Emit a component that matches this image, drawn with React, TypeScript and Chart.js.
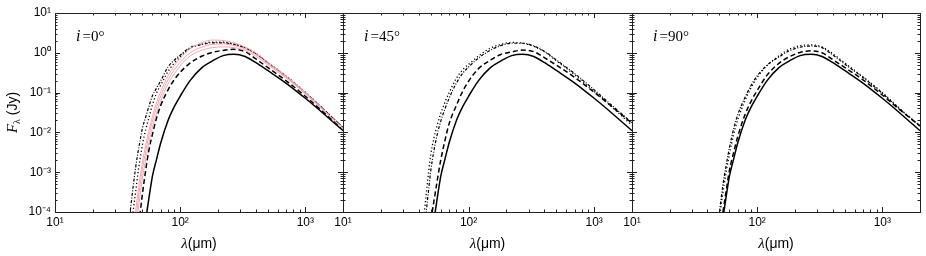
import React, { useEffect, useRef } from 'react';
import { Chart, registerables } from 'chart.js';

Chart.register(...registerables);

// Wavelength grid (micron) shared by all curves
const lam = [38, 40, 42, 44, 46, 48, 50, 53, 56, 60, 65, 70, 80, 90, 100, 120, 150, 180, 220, 270, 330, 400, 500, 700, 1000, 1400, 2000];

// Solid reference curve (same in all panels)
const solidAll = [null, null, null, null, null, null, 1.6e-5, 6.3e-5, 2.0e-4, 7.9e-4, 2.2e-3, 5.5e-3, 0.020, 0.045, 0.081, 0.20, 0.43, 0.62, 0.85, 0.92, 0.81, 0.575, 0.36, 0.174, 0.072, 0.0295, 0.011];

// Panel i = 0
const dashed0 = [null, null, null, null, 3.2e-5, 1.0e-4, 2.9e-4, 1.1e-3, 3.3e-3, 8.9e-3, 0.024, 0.048, 0.117, 0.214, 0.324, 0.55, 0.83, 1.02, 1.15, 1.22, 1.07, 0.71, 0.43, 0.20, 0.081, 0.032, 0.0122];
const dotted0 = [null, 2.8e-5, 1.0e-4, 3.1e-4, 9.5e-4, 2.3e-3, 5.0e-3, 0.0117, 0.022, 0.049, 0.10, 0.155, 0.34, 0.56, 0.79, 1.29, 1.66, 1.86, 1.86, 1.66, 1.35, 0.98, 0.575, 0.263, 0.102, 0.038, 0.0132];
const dashdot0 = [3.2e-5, 1.12e-4, 4.1e-4, 1.26e-3, 3.1e-3, 6.6e-3, 0.0129, 0.024, 0.043, 0.083, 0.132, 0.20, 0.44, 0.66, 0.87, 1.35, 1.62, 1.78, 1.78, 1.62, 1.32, 0.955, 0.56, 0.257, 0.10, 0.038, 0.0132];
const pinkTop0 = [null, null, 3.2e-5, 1.0e-4, 3.2e-4, 7.9e-4, 1.8e-3, 4.7e-3, 0.0105, 0.025, 0.058, 0.107, 0.263, 0.48, 0.72, 1.26, 1.82, 2.09, 2.04, 1.78, 1.41, 1.0, 0.59, 0.263, 0.102, 0.037, 0.0126];
const pinkMid0 = [null, null, 1.6e-5, 5.6e-5, 1.8e-4, 5.0e-4, 1.2e-3, 3.3e-3, 7.6e-3, 0.019, 0.044, 0.083, 0.209, 0.38, 0.575, 1.0, 1.41, 1.62, 1.66, 1.51, 1.26, 0.91, 0.54, 0.25, 0.098, 0.036, 0.0126];
const pinkLow0 = [null, null, null, 3.2e-5, 1.0e-4, 2.8e-4, 7.1e-4, 2.1e-3, 5.0e-3, 0.0132, 0.032, 0.063, 0.166, 0.30, 0.47, 0.83, 1.17, 1.35, 1.41, 1.35, 1.15, 0.83, 0.50, 0.234, 0.093, 0.035, 0.0123];

// Panel i = 45
const dashed45 = [null, null, null, null, null, 2.5e-5, 6.0e-5, 1.9e-4, 5.6e-4, 2.0e-3, 6.5e-3, 0.0166, 0.048, 0.11, 0.193, 0.40, 0.66, 0.91, 1.05, 1.17, 1.07, 0.76, 0.49, 0.24, 0.102, 0.043, 0.017];
const dotted45 = [null, null, 1.8e-5, 7.1e-5, 2.8e-4, 1.0e-3, 2.8e-3, 7.2e-3, 0.0145, 0.030, 0.058, 0.10, 0.23, 0.38, 0.51, 0.83, 1.32, 1.62, 1.82, 1.74, 1.45, 1.07, 0.63, 0.28, 0.107, 0.042, 0.015];
const dashdot45 = [null, null, null, 2.5e-5, 1.0e-4, 3.5e-4, 1.1e-3, 3.5e-3, 8.3e-3, 0.019, 0.040, 0.072, 0.174, 0.31, 0.44, 0.74, 1.17, 1.51, 1.74, 1.74, 1.48, 1.10, 0.66, 0.30, 0.117, 0.046, 0.0174];

// Panel i = 90
const dashed90 = [null, null, null, null, null, null, 2.5e-5, 8.9e-5, 2.8e-4, 1.1e-3, 3.2e-3, 7.9e-3, 0.028, 0.063, 0.112, 0.275, 0.55, 0.79, 1.02, 1.12, 1.0, 0.68, 0.43, 0.21, 0.087, 0.0355, 0.0145];
const dotted90 = [null, null, null, null, null, 2.5e-5, 7.1e-5, 2.8e-4, 8.3e-4, 2.8e-3, 9.1e-3, 0.021, 0.063, 0.138, 0.24, 0.48, 0.85, 1.23, 1.51, 1.58, 1.41, 0.955, 0.56, 0.25, 0.10, 0.038, 0.0145];
const dashdot90 = [null, null, null, null, 1.3e-5, 3.5e-5, 1.0e-4, 4.3e-4, 1.26e-3, 4.1e-3, 0.0126, 0.028, 0.076, 0.158, 0.263, 0.49, 0.79, 1.12, 1.38, 1.48, 1.35, 0.89, 0.525, 0.24, 0.0955, 0.037, 0.0145];

// Axis ticks
const xTickValues = [10, 100, 1000];
const yTickValues = [1e-4, 1e-3, 1e-2, 1e-1, 1, 10];
const panelLabels = ['0°', '45°', '90°'];

const SANS = '"Liberation Sans", Arial, sans-serif';
const SERIF = '"Liberation Serif", "DejaVu Serif", serif';
const PINK = 'rgb(244,168,180)';

const SUP: Record<string, string> = { '-': '⁻', '0': '⁰', '1': '¹', '2': '²', '3': '³', '4': '⁴', '5': '⁵' };
function fmtPow(v: number) {
  const e = Math.round(Math.log10(v));
  return '10' + String(e).split('').map((c) => SUP[c] || c).join('');
}

type Style = 'solid' | 'dashed' | 'dotted' | 'dashdot' | 'pink';
const styleMap: Record<Style, { color: string; width: number; dash: number[] }> = {
  solid: { color: '#000', width: 1.5, dash: [] },
  dashed: { color: '#000', width: 1.5, dash: [5, 3] },
  dotted: { color: '#000', width: 1.3, dash: [1.2, 2.4] },
  dashdot: { color: '#000', width: 1.2, dash: [3, 1.6, 1, 1.6] },
  pink: { color: PINK, width: 1, dash: [] },
};

const panels: { series: any[] }[] = [
  { series: [[pinkLow0, 'pink'], [pinkMid0, 'pink'], [pinkTop0, 'pink'], [solidAll, 'solid'], [dashed0, 'dashed'], [dotted0, 'dotted'], [dashdot0, 'dashdot']] },
  { series: [[solidAll, 'solid'], [dashed45, 'dashed'], [dotted45, 'dotted'], [dashdot45, 'dashdot']] },
  { series: [[solidAll, 'solid'], [dashed90, 'dashed'], [dotted90, 'dotted'], [dashdot90, 'dashdot']] },
];

const AREA_L = [55, 343, 632];
const AREA_R = [343, 632, 920];
const AREA_T = 13;
const AREA_B = 212;
const W = 926;
const H = 256;

function makeDecorPlugin(idx: number) {
  return {
    id: 'decor' + idx,
    afterDraw(chart: any) {
      const ctx = chart.ctx as CanvasRenderingContext2D;
      const ca = chart.chartArea;
      const xs = chart.scales.x;
      const ys = chart.scales.y;
      ctx.save();
      ctx.strokeStyle = '#222';
      ctx.lineWidth = 1;
      // inward ticks
      ctx.beginPath();
      for (let k = 1; k <= 3; k++) {
        for (let m = 1; m <= 9; m++) {
          const v = m * Math.pow(10, k);
          if (v < xs.min || v > xs.max) continue;
          const px = Math.round(xs.getPixelForValue(v)) + 0.5;
          const len = m === 1 ? 5 : 2.5;
          ctx.moveTo(px, ca.bottom);
          ctx.lineTo(px, ca.bottom - len);
          ctx.moveTo(px, ca.top);
          ctx.lineTo(px, ca.top + len);
        }
      }
      for (let k = -4; k <= 1; k++) {
        for (let m = 1; m <= 9; m++) {
          const v = m * Math.pow(10, k);
          if (v < ys.min * 0.999 || v > ys.max * 1.001) continue;
          const py = Math.round(ys.getPixelForValue(v)) + 0.5;
          const len = m === 1 ? 5 : 2.5;
          ctx.moveTo(ca.left, py);
          ctx.lineTo(ca.left + len, py);
          ctx.moveTo(ca.right, py);
          ctx.lineTo(ca.right - len, py);
        }
      }
      ctx.stroke();
      // frame
      ctx.strokeRect(Math.round(ca.left) + 0.5, Math.round(ca.top) + 0.5, Math.round(ca.right - ca.left), Math.round(ca.bottom - ca.top));

      ctx.fillStyle = '#000';
      ctx.textBaseline = 'alphabetic';
      // x title: λ(μm)
      const cx = (ca.left + ca.right) / 2;
      ctx.font = 'italic 15px ' + SERIF;
      const w1 = ctx.measureText('λ').width;
      ctx.font = '14px ' + SANS;
      const w2 = ctx.measureText('(μm)').width;
      const x0 = cx - (w1 + w2) / 2;
      ctx.font = 'italic 15px ' + SERIF;
      ctx.fillText('λ', x0, 248);
      ctx.font = '14px ' + SANS;
      ctx.fillText('(μm)', x0 + w1, 248);

      // panel label i = ..
      const lx = ca.left + 21;
      const ly = 41;
      ctx.font = 'italic 16px ' + SERIF;
      ctx.fillText('i', lx, ly);
      const wi = ctx.measureText('i').width;
      ctx.font = '15px ' + SERIF;
      ctx.fillText('=' + panelLabels[idx], lx + wi + 2, ly);

      // y title on first panel
      if (idx === 0) {
        ctx.save();
        ctx.translate(17, (ca.top + ca.bottom) / 2);
        ctx.rotate(-Math.PI / 2);
        ctx.font = 'italic 15px ' + SERIF;
        const wf = ctx.measureText('F').width;
        ctx.font = '10px ' + SERIF;
        const wl = ctx.measureText('λ').width;
        ctx.font = '14px ' + SANS;
        const wj = ctx.measureText(' (Jy)').width;
        const tx = -(wf + wl + wj) / 2;
        ctx.font = 'italic 15px ' + SERIF;
        ctx.fillText('F', tx, 0);
        ctx.font = '10px ' + SERIF;
        ctx.fillText('λ', tx + wf, 3);
        ctx.font = '14px ' + SANS;
        ctx.fillText(' (Jy)', tx + wf + wl, 0);
        ctx.restore();
      }
      ctx.restore();
    },
  };
}

function makeConfig(idx: number): any {
  const datasets = panels[idx].series.map(([vals, st]: [any[], Style]) => {
    const s = styleMap[st];
    return {
      data: lam.map((x, i) => ({ x, y: vals[i] })),
      borderColor: s.color,
      borderWidth: s.width,
      borderDash: s.dash,
      pointRadius: 0,
      fill: false,
      tension: 0.4,
      cubicInterpolationMode: 'monotone',
      spanGaps: false,
    };
  });
  return {
    type: 'line',
    data: { datasets },
    options: {
      animation: false,
      responsive: false,
      maintainAspectRatio: false,
      events: [],
      layout: { padding: { left: idx === 0 ? 0 : AREA_L[idx], right: W - AREA_R[idx], top: AREA_T, bottom: 0 } },
      plugins: { legend: { display: false }, tooltip: { enabled: false }, title: { display: false } },
      scales: {
        x: {
          type: 'logarithmic',
          position: 'bottom',
          min: 10,
          max: 2000,
          grid: { display: false, drawTicks: false },
          border: { display: false },
          ticks: {
            autoSkip: false,
            maxRotation: 0,
            minRotation: 0,
            padding: 3,
            color: '#000',
            font: { family: SANS, size: 12 },
            callback: (v: number) => fmtPow(v),
          },
          afterBuildTicks: (s: any) => {
            s.ticks = xTickValues.map((v) => ({ value: v }));
          },
          afterFit: (s: any) => {
            s.height = H - AREA_B;
          },
        },
        y: {
          type: 'logarithmic',
          position: 'left',
          min: 1e-4,
          max: 10,
          grid: { display: false, drawTicks: false },
          border: { display: false },
          ticks: {
            display: idx === 0,
            autoSkip: false,
            padding: 4,
            color: '#000',
            font: { family: SANS, size: 12 },
            callback: (v: number) => fmtPow(v),
          },
          afterBuildTicks: (s: any) => {
            s.ticks = yTickValues.map((v) => ({ value: v }));
          },
          afterFit: (s: any) => {
            s.width = idx === 0 ? AREA_L[0] : 0;
          },
        },
      },
    },
    plugins: [makeDecorPlugin(idx)],
  };
}

export default function App() {
  const r0 = useRef<HTMLCanvasElement>(null);
  const r1 = useRef<HTMLCanvasElement>(null);
  const r2 = useRef<HTMLCanvasElement>(null);
  useEffect(() => {
    const refs = [r0, r1, r2];
    const charts = refs.map((r, i) => new Chart(r.current as HTMLCanvasElement, makeConfig(i)));
    return () => charts.forEach((c) => c.destroy());
  }, []);
  const cstyle: React.CSSProperties = { position: 'absolute', left: 0, top: 0, width: W, height: H };
  return (
    <div style={{ position: 'absolute', left: 0, top: 0, width: W, height: H, background: '#fff' }}>
      <canvas ref={r0} width={W} height={H} style={cstyle} />
      <canvas ref={r1} width={W} height={H} style={cstyle} />
      <canvas ref={r2} width={W} height={H} style={cstyle} />
    </div>
  );
}
